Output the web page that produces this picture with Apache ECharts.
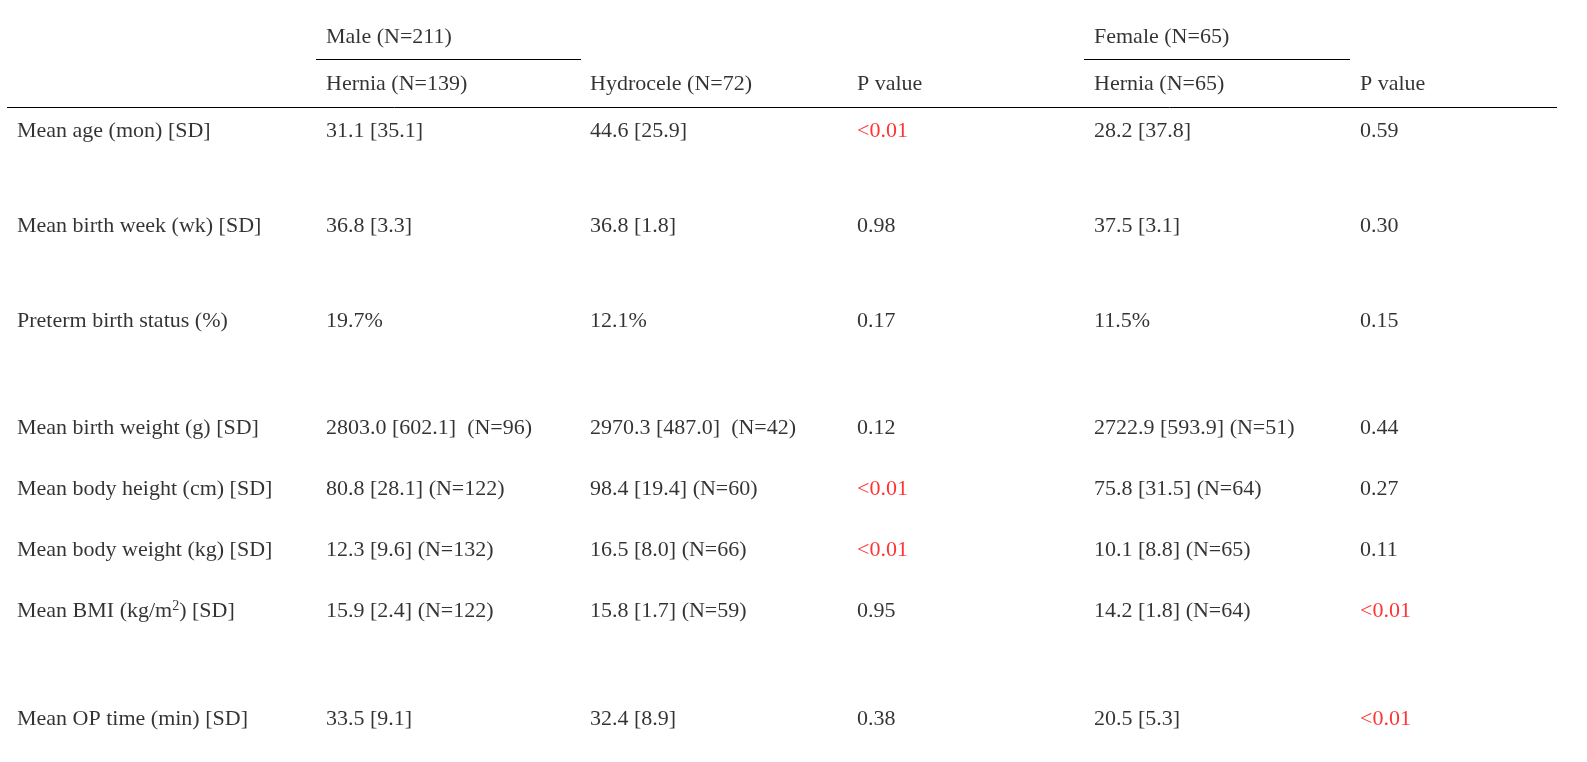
<!DOCTYPE html>
<html><head><meta charset="utf-8">
<script src="https://cdn.jsdelivr.net/npm/echarts@6/dist/echarts.min.js"></script>
<style>html,body{margin:0;padding:0;background:#fff}#c{width:1587px;height:762px}</style>
</head><body><div id="c"></div>
<script>
const colX = [17, 326, 590, 857, 1094, 1360];
const rowY = [131, 226, 321, 428, 489, 550, 611, 719];
const headerTop = ["", "Male (N=211)", "", "", "Female (N=65)", ""];
const headerSub = ["", "Hernia (N=139)", "Hydrocele (N=72)", "P value", "Hernia (N=65)", "P value"];
const rowLabels = ["Mean age (mon) [SD]", "Mean birth week (wk) [SD]", "Preterm birth status (%)",
  "Mean birth weight (g) [SD]", "Mean body height (cm) [SD]", "Mean body weight (kg) [SD]",
  "Mean BMI (kg/m{sup|2}) [SD]", "Mean OP time (min) [SD]"];
const maleHernia = ["31.1 [35.1]", "36.8 [3.3]", "19.7%", "2803.0 [602.1]  (N=96)", "80.8 [28.1] (N=122)", "12.3 [9.6] (N=132)", "15.9 [2.4] (N=122)", "33.5 [9.1]"];
const maleHydrocele = ["44.6 [25.9]", "36.8 [1.8]", "12.1%", "2970.3 [487.0]  (N=42)", "98.4 [19.4] (N=60)", "16.5 [8.0] (N=66)", "15.8 [1.7] (N=59)", "32.4 [8.9]"];
const maleP = ["<0.01", "0.98", "0.17", "0.12", "<0.01", "<0.01", "0.95", "0.38"];
const femaleHernia = ["28.2 [37.8]", "37.5 [3.1]", "11.5%", "2722.9 [593.9] (N=51)", "75.8 [31.5] (N=64)", "10.1 [8.8] (N=65)", "14.2 [1.8] (N=64)", "20.5 [5.3]"];
const femaleP = ["0.59", "0.30", "0.15", "0.44", "0.27", "0.11", "<0.01", "<0.01"];
const headerY = [37, 84];

const font = "'Liberation Serif', 'Times New Roman', serif";
const cols = [rowLabels, maleHernia, maleHydrocele, maleP, femaleHernia, femaleP];
const data = [];
function push(x, y, text, red) {
  if (!text) return;
  data.push({value: [x, y], label: {formatter: text, color: red ? '#ff0000' : '#000000'}});
}
headerTop.forEach((t, i) => push(colX[i], headerY[0], t));
headerSub.forEach((t, i) => push(colX[i], headerY[1], t));
cols.forEach((arr, c) => arr.forEach((t, r) => push(colX[c], rowY[r], t, t === "<0.01")));

const chart = echarts.init(document.getElementById('c'));
chart.setOption({
  animation: false,
  backgroundColor: '#fff',
  grid: {left: 0, right: 0, top: 0, bottom: 0},
  xAxis: {type: 'value', min: 0, max: 1587, show: false},
  yAxis: {type: 'value', min: 0, max: 762, inverse: true, show: false},
  series: [{
    type: 'scatter', symbolSize: 0, data: data,
    label: {show: true, position: 'right', distance: 0, align: 'left', verticalAlign: 'middle',
      fontFamily: font, fontSize: 22, textBorderWidth: 0,
      rich: {sup: {fontSize: 14, verticalAlign: 'top', fontFamily: font, color: '#000', padding: [0, 0, 10, 0]}}}
  }],
  graphic: [
    {type: 'line', shape: {x1: 316, y1: 59.5, x2: 581, y2: 59.5}, style: {stroke: '#000', lineWidth: 1}},
    {type: 'line', shape: {x1: 1084, y1: 59.5, x2: 1350, y2: 59.5}, style: {stroke: '#000', lineWidth: 1}},
    {type: 'line', shape: {x1: 7, y1: 107.5, x2: 1557, y2: 107.5}, style: {stroke: '#000', lineWidth: 1}}
  ]
});
</script></body></html>
